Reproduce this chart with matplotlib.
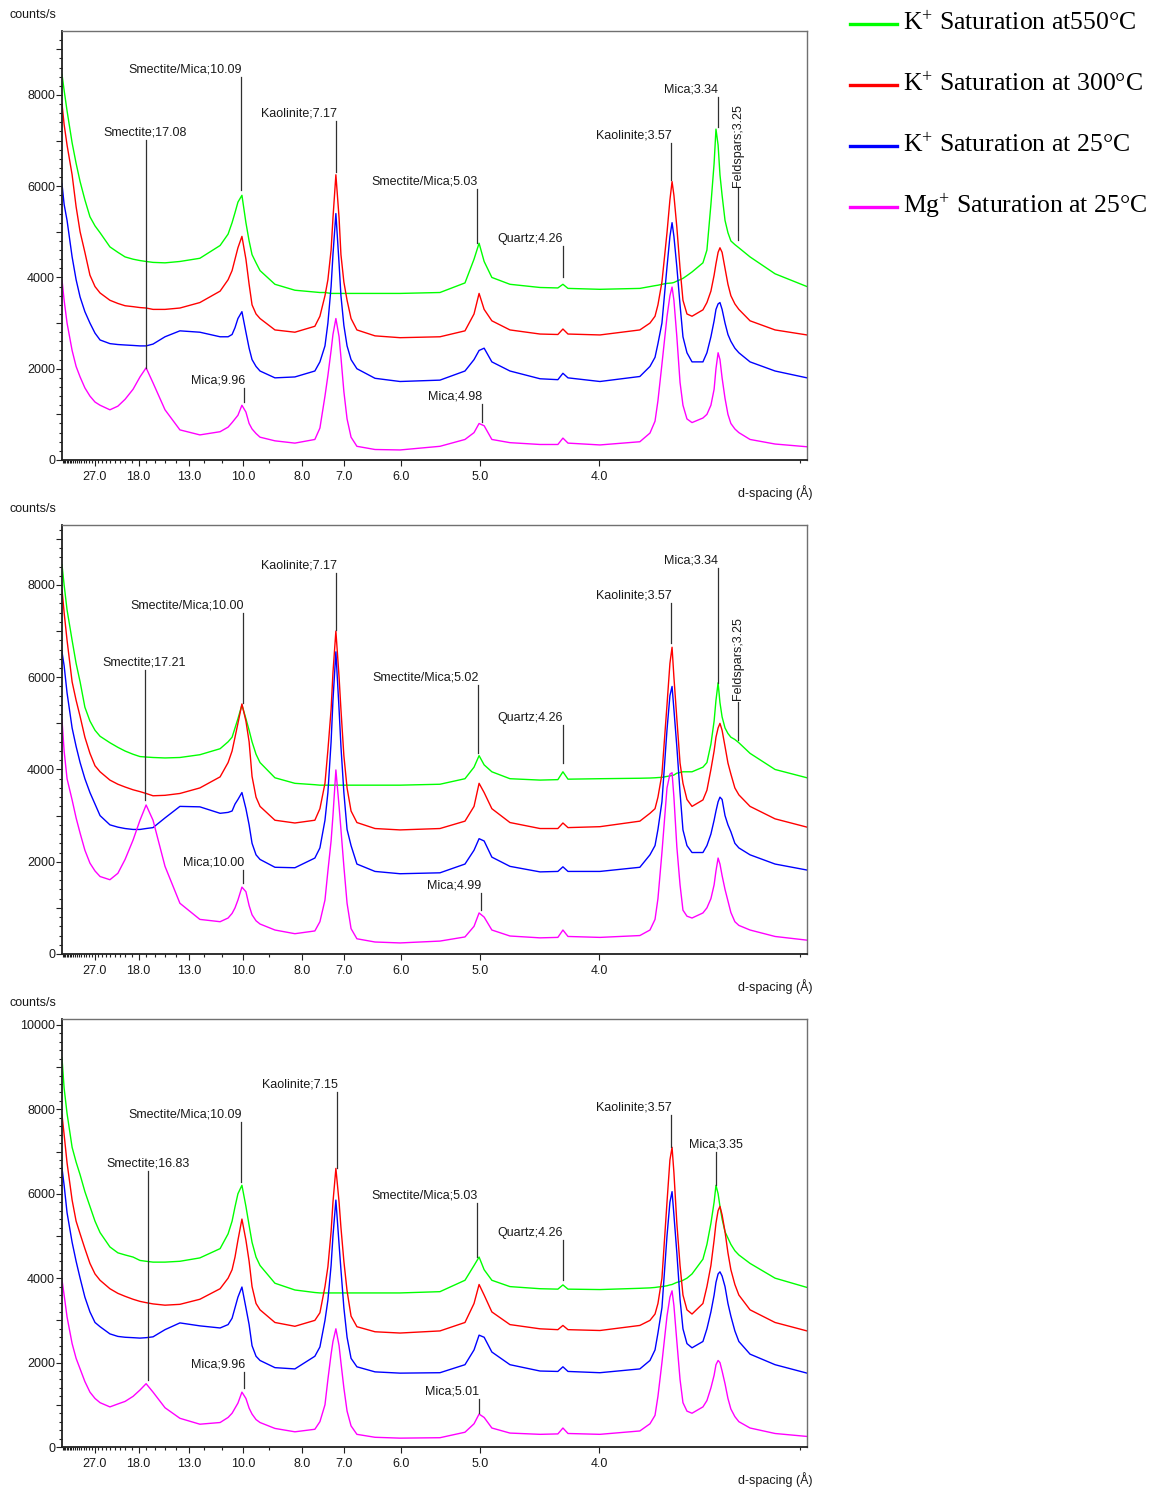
import numpy as np
import matplotlib
matplotlib.use('Agg')
import matplotlib.pyplot as plt
from matplotlib.lines import Line2D
from matplotlib.ticker import FixedLocator, FuncFormatter

WAVELENGTH = 1.5406  # Cu K-alpha, Angstrom

# measurement positions (degrees 2-theta), shared by all traces
two_theta = [2.03, 2.11, 2.22, 2.41, 2.56, 2.71, 2.89, 3.08, 3.27, 3.46,
             3.83, 4.13, 4.40, 4.70, 4.96, 5.19, 5.45, 5.90, 6.46, 7.21,
             7.97, 8.27, 8.42, 8.53, 8.64, 8.79, 8.94, 9.06, 9.17, 9.32,
             9.47, 10.03, 10.78, 11.53, 11.72, 11.91, 12.02, 12.14, 12.21, 12.32,
             12.44, 12.51, 12.62, 12.74, 12.89, 13.11, 13.79, 14.73, 16.23, 17.17,
             17.51, 17.70, 17.89, 18.18, 18.86, 19.99, 20.66, 20.85, 21.04, 22.24,
             23.74, 24.12, 24.31, 24.42, 24.57, 24.76, 24.87, 24.95, 25.02, 25.13,
             25.25, 25.36, 25.51, 25.70, 26.11, 26.26, 26.41, 26.53, 26.60, 26.68,
             26.75, 26.83, 26.94, 27.05, 27.16, 27.31, 27.46, 27.88, 28.82, 30.02]

# ---- panel 1 (counts/s)
p1_k550 = [8450, 8100, 7650, 6950, 6500, 6100, 5700, 5330, 5130, 4980,
           4670, 4550, 4450, 4400, 4370, 4350, 4330, 4320, 4350, 4420,
           4700, 4950, 5200, 5420, 5650, 5800, 5200, 4800, 4500, 4320,
           4150, 3850, 3720, 3680, 3670, 3670, 3660, 3650, 3650, 3650,
           3650, 3650, 3650, 3650, 3650, 3650, 3650, 3650, 3670, 3880,
           4400, 4750, 4350, 4000, 3850, 3780, 3770, 3850, 3760, 3740,
           3760, 3800, 3820, 3830, 3850, 3870, 3875, 3880, 3890, 3920,
           3950, 3980, 4040, 4120, 4320, 4600, 5600, 6500, 7250, 6900,
           6250, 5800, 5250, 4980, 4800, 4720, 4650, 4450, 4080, 3800]
p1_k300 = [7800, 7350, 6900, 6250, 5550, 5000, 4550, 4050, 3800, 3660,
           3500, 3430, 3380, 3360, 3340, 3330, 3300, 3300, 3330, 3450,
           3700, 3950, 4150, 4400, 4650, 4900, 4400, 3850, 3400, 3200,
           3100, 2850, 2800, 2930, 3150, 3600, 3950, 4600, 5300, 6250,
           5300, 4500, 3900, 3500, 3100, 2850, 2720, 2680, 2700, 2830,
           3200, 3650, 3300, 3050, 2850, 2760, 2750, 2870, 2760, 2740,
           2850, 3000, 3150, 3400, 3900, 4980, 5700, 6100, 5800, 5100,
           4200, 3500, 3200, 3150, 3290, 3450, 3700, 4050, 4300, 4550,
           4650, 4550, 4200, 3850, 3600, 3420, 3300, 3050, 2850, 2740]
p1_k25 = [6050, 5600, 5250, 4450, 3950, 3570, 3250, 3000, 2780, 2630,
          2550, 2530, 2520, 2510, 2500, 2500, 2540, 2700, 2830, 2800,
          2700, 2700, 2750, 2900, 3100, 3250, 2800, 2450, 2200, 2050,
          1950, 1800, 1820, 1950, 2150, 2500, 3000, 3800, 4500, 5400,
          4300, 3600, 2950, 2500, 2200, 2000, 1790, 1720, 1750, 1950,
          2200, 2400, 2450, 2150, 1950, 1780, 1760, 1900, 1800, 1720,
          1830, 2050, 2250, 2550, 3000, 4230, 4900, 5200, 4900, 4230,
          3400, 2700, 2350, 2150, 2150, 2350, 2700, 3050, 3300, 3420,
          3450, 3300, 3000, 2750, 2600, 2450, 2350, 2150, 1950, 1800]
p1_mg25 = [3950, 3500, 3000, 2400, 2050, 1820, 1580, 1400, 1270, 1200,
           1100, 1180, 1330, 1550, 1820, 2020, 1690, 1100, 660, 550,
           620, 720, 820, 900, 980, 1200, 1050, 800, 680, 580,
           500, 420, 370, 450, 700, 1400, 1850, 2400, 2750, 3100,
           2700, 2250, 1500, 900, 500, 300, 230, 220, 300, 450,
           600, 800, 750, 450, 380, 340, 340, 480, 370, 330,
           400, 590, 850, 1300, 2100, 3140, 3600, 3790, 3500, 2700,
           1700, 1200, 900, 820, 920, 1000, 1200, 1550, 2000, 2350,
           2200, 1800, 1350, 1000, 800, 680, 600, 450, 350, 290]

# ---- panel 2
p2_k550 = [8440, 8000, 7460, 6800, 6300, 5900, 5350, 5050, 4850, 4720,
           4580, 4480, 4400, 4330, 4280, 4270, 4260, 4250, 4260, 4320,
           4450, 4600, 4700, 4900, 5100, 5400, 5100, 4850, 4600, 4330,
           4150, 3820, 3700, 3670, 3660, 3660, 3660, 3660, 3660, 3660,
           3660, 3660, 3660, 3660, 3660, 3660, 3660, 3660, 3680, 3800,
           4050, 4300, 4100, 3950, 3800, 3770, 3780, 3950, 3790, 3800,
           3810, 3815, 3820, 3825, 3830, 3850, 3860, 3870, 3880, 3920,
           3935, 3950, 3950, 3950, 4050, 4150, 4550, 5050, 5500, 5880,
           5450, 5140, 4900, 4780, 4700, 4650, 4580, 4350, 4000, 3820]
p2_k300 = [7900, 7400, 6800, 5900, 5500, 5150, 4700, 4350, 4080, 3950,
           3770, 3680, 3620, 3560, 3520, 3480, 3430, 3440, 3480, 3600,
           3840, 4150, 4400, 4700, 5000, 5420, 5050, 4600, 3850, 3400,
           3200, 2900, 2840, 2900, 3150, 3700, 4420, 5300, 6100, 7000,
           6000, 5300, 4300, 3600, 3100, 2850, 2720, 2690, 2720, 2880,
           3200, 3700, 3500, 3150, 2850, 2720, 2720, 2840, 2740, 2760,
           2880, 3050, 3150, 3400, 3900, 5400, 6300, 6650, 6000, 5100,
           4140, 3700, 3350, 3200, 3340, 3550, 4000, 4400, 4700, 4900,
           5000, 4850, 4500, 4140, 3900, 3600, 3450, 3200, 2930, 2750]
p2_k25 = [6550, 6250, 5660, 4900, 4500, 4150, 3800, 3500, 3250, 3000,
          2800, 2750, 2720, 2700, 2700, 2720, 2740, 2950, 3200, 3190,
          3050, 3070, 3100, 3250, 3350, 3500, 3150, 2800, 2400, 2150,
          2050, 1880, 1870, 2080, 2300, 2900, 3500, 4600, 5500, 6550,
          5300, 4500, 3500, 2700, 2350, 1950, 1790, 1740, 1760, 1950,
          2250, 2500, 2450, 2100, 1900, 1780, 1790, 1890, 1790, 1790,
          1880, 2150, 2350, 2700, 3300, 4860, 5600, 5800, 5300, 4490,
          3500, 2690, 2350, 2200, 2200, 2350, 2600, 2900, 3100, 3300,
          3400, 3350, 3000, 2800, 2650, 2400, 2300, 2150, 1950, 1820]
p2_mg25 = [5080, 4400, 3800, 3340, 2950, 2620, 2250, 1970, 1800, 1680,
           1610, 1750, 2050, 2470, 2900, 3230, 2900, 1900, 1100, 750,
           700, 780, 880, 1000, 1170, 1450, 1350, 1050, 850, 720,
           650, 520, 440, 500, 700, 1170, 1800, 2450, 3000, 3990,
           3200, 2700, 1900, 1100, 550, 330, 260, 240, 280, 370,
           600, 890, 800, 520, 390, 350, 360, 520, 380, 360,
           400, 520, 750, 1200, 2200, 3600, 3900, 3930, 3400, 2320,
           1500, 950, 820, 780, 890, 1000, 1200, 1500, 1800, 2080,
           1950, 1700, 1400, 1150, 900, 700, 620, 520, 380, 300]

# ---- panel 3
p3_k550 = [9220, 8500, 7900, 7100, 6750, 6450, 6050, 5700, 5350, 5080,
           4740, 4600, 4550, 4500, 4420, 4400, 4380, 4380, 4400, 4480,
           4700, 5050, 5350, 5690, 6000, 6200, 5700, 5250, 4850, 4500,
           4300, 3880, 3720, 3660, 3650, 3650, 3650, 3650, 3650, 3650,
           3650, 3650, 3650, 3650, 3650, 3650, 3650, 3650, 3680, 3950,
           4300, 4500, 4200, 3950, 3800, 3750, 3740, 3840, 3740, 3730,
           3760, 3770, 3780, 3790, 3800, 3820, 3840, 3850, 3870, 3900,
           3920, 3950, 4000, 4100, 4450, 4800, 5300, 5800, 6200, 6000,
           5700, 5400, 5100, 4950, 4800, 4650, 4550, 4350, 4000, 3780]
p3_k300 = [7870, 7400, 6730, 5850, 5350, 5050, 4700, 4350, 4100, 3950,
           3750, 3640, 3570, 3500, 3450, 3420, 3390, 3360, 3380, 3500,
           3750, 4000, 4200, 4500, 4900, 5400, 4900, 4400, 3800, 3400,
           3250, 2950, 2860, 3000, 3180, 3800, 4270, 5100, 5800, 6600,
           5800, 5200, 4400, 3700, 3100, 2850, 2730, 2700, 2750, 2950,
           3400, 3850, 3600, 3200, 2900, 2800, 2780, 2880, 2780, 2760,
           2880, 3000, 3150, 3400, 4000, 5800, 6800, 7100, 6500, 5300,
           4300, 3600, 3250, 3150, 3400, 3800, 4300, 4900, 5300, 5600,
           5700, 5500, 5100, 4600, 4200, 3850, 3600, 3250, 2950, 2750]
p3_k25 = [6610, 6200, 5550, 4850, 4400, 4000, 3550, 3200, 2950, 2850,
          2680, 2620, 2600, 2590, 2580, 2590, 2610, 2780, 2940, 2870,
          2820, 2900, 3050, 3300, 3550, 3790, 3300, 2900, 2400, 2150,
          2050, 1880, 1850, 2150, 2370, 3000, 3480, 4300, 5000, 5850,
          4800, 4200, 3300, 2600, 2100, 1900, 1780, 1750, 1760, 1950,
          2300, 2650, 2600, 2250, 1950, 1800, 1790, 1900, 1790, 1760,
          1850, 2050, 2300, 2700, 3300, 5000, 5800, 6050, 5500, 4600,
          3500, 2800, 2450, 2350, 2500, 2800, 3200, 3600, 3900, 4100,
          4150, 4050, 3800, 3400, 3100, 2750, 2500, 2200, 1950, 1750]
p3_mg25 = [3960, 3600, 3080, 2450, 2100, 1850, 1550, 1300, 1150, 1050,
           950, 1020, 1080, 1200, 1350, 1500, 1300, 930, 680, 540,
           580, 700, 800, 920, 1040, 1300, 1150, 920, 780, 650,
           580, 440, 360, 420, 600, 1000, 1600, 2200, 2500, 2800,
           2400, 2000, 1400, 850, 500, 300, 230, 210, 220, 350,
           550, 780, 700, 450, 330, 300, 310, 450, 320, 300,
           380, 550, 750, 1200, 2000, 3100, 3550, 3700, 3350, 2500,
           1600, 1050, 850, 800, 950, 1100, 1400, 1700, 1950, 2050,
           2000, 1800, 1500, 1150, 900, 720, 600, 450, 320, 250]

series_labels = [r'K$^{+}$ Saturation at550°C',
                 r'K$^{+}$ Saturation at 300°C',
                 r'K$^{+}$ Saturation at 25°C',
                 r'Mg$^{+}$ Saturation at 25°C']
series_colors = ['#00ff00', '#ff0000', '#0000ff', '#ff00ff']

# peak labels: text, d-spacing, label line top / bottom (counts/s), text placement
p1_peaks = [('Smectite;17.08', 17.08, 7020, 2020, 'center'),
            ('Smectite/Mica;10.09', 10.09, 8400, 5920, 'right'),
            ('Mica;9.96', 9.96, 1580, 1270, 'right'),
            ('Kaolinite;7.17', 7.17, 7430, 6320, 'right'),
            ('Smectite/Mica;5.03', 5.03, 5940, 4760, 'right'),
            ('Mica;4.98', 4.98, 1230, 830, 'right'),
            ('Quartz;4.26', 4.26, 4690, 4010, 'right'),
            ('Kaolinite;3.57', 3.57, 6950, 6140, 'right'),
            ('Mica;3.34', 3.34, 7960, 7300, 'right'),
            ('Feldspars;3.25', 3.25, 5960, 4820, 'vertical')]
p2_peaks = [('Smectite;17.21', 17.21, 6160, 3340, 'center'),
            ('Smectite/Mica;10.00', 10.00, 7400, 5440, 'right'),
            ('Mica;10.00', 10.00, 1820, 1540, 'right'),
            ('Kaolinite;7.17', 7.17, 8260, 7030, 'right'),
            ('Smectite/Mica;5.02', 5.02, 5840, 4360, 'right'),
            ('Mica;4.99', 4.99, 1320, 950, 'right'),
            ('Quartz;4.26', 4.26, 4970, 4140, 'right'),
            ('Kaolinite;3.57', 3.57, 7610, 6750, 'right'),
            ('Mica;3.34', 3.34, 8370, 5880, 'right'),
            ('Feldspars;3.25', 3.25, 5470, 4640, 'vertical')]
p3_peaks = [('Smectite;16.83', 16.83, 6540, 1590, 'center'),
            ('Smectite/Mica;10.09', 10.09, 7700, 6280, 'right'),
            ('Mica;9.96', 9.96, 1780, 1400, 'right'),
            ('Kaolinite;7.15', 7.15, 8410, 6610, 'right'),
            ('Smectite/Mica;5.03', 5.03, 5780, 4500, 'right'),
            ('Mica;5.01', 5.01, 1140, 800, 'right'),
            ('Quartz;4.26', 4.26, 4900, 3960, 'right'),
            ('Kaolinite;3.57', 3.57, 7870, 7110, 'right'),
            ('Mica;3.35', 3.35, 6990, 6210, 'center')]

d_major = [27.0, 18.0, 13.0, 10.0, 8.0, 7.0, 6.0, 5.0, 4.0]
d_minor = [d for d in range(3, 44) if d not in (4, 5, 6, 7, 8, 10, 13, 18, 27)]

panels = [
    ([p1_k550, p1_k300, p1_k25, p1_mg25], p1_peaks, 9400),
    ([p2_k550, p2_k300, p2_k25, p2_mg25], p2_peaks, 9300),
    ([p3_k550, p3_k300, p3_k25, p3_mg25], p3_peaks, 10140),
]


def d_to_2theta(d):
    return np.degrees(2 * np.arcsin(WAVELENGTH / (2 * np.asarray(d, dtype=float))))


W, H = 1157, 1492
boxes = [(62, 31, 807, 460), (62, 525, 807, 954), (62, 1019, 807, 1447)]

plt.rcParams['font.family'] = ['Liberation Sans', 'DejaVu Sans']
plt.rcParams['mathtext.fontset'] = 'custom'
plt.rcParams['mathtext.rm'] = 'Liberation Serif'
plt.rcParams['mathtext.it'] = 'Liberation Serif:italic'
txt_col = '#1a1a1a'

fig = plt.figure(figsize=(W / 100, H / 100), dpi=100)

for (traces, peaks, ytop), (l, t, r, b) in zip(panels, boxes):
    ax = fig.add_axes([l / W, 1 - b / H, (r - l) / W, (b - t) / H])
    for vals, col in zip(traces, series_colors):
        ax.plot(two_theta, vals, color=col, lw=1.0)

    ax.set_xlim(2.03, 30.02)
    ax.set_ylim(0, ytop)

    # d-spacing ticks on a 2-theta scale
    ax.xaxis.set_major_locator(FixedLocator(d_to_2theta(d_major)))
    ax.xaxis.set_minor_locator(FixedLocator(d_to_2theta(d_minor)))
    ax.set_xticklabels([f'{d:.1f}' for d in d_major])
    ax.yaxis.set_major_locator(FixedLocator(np.arange(0, ytop, 1000)))
    ax.yaxis.set_minor_locator(FixedLocator(np.arange(0, ytop, 200)))
    ax.yaxis.set_major_formatter(FuncFormatter(lambda v, p: f'{int(v)}' if v % 2000 == 0 else ''))

    ax.tick_params(axis='x', which='major', direction='out', length=4.5, width=0.8,
                   pad=3.5, labelsize=9, labelcolor=txt_col, color='#202020')
    ax.tick_params(axis='x', which='minor', direction='out', length=2.5, width=0.8, color='#202020')
    ax.tick_params(axis='y', which='major', direction='out', length=4, width=0.8,
                   pad=1, labelsize=9, labelcolor=txt_col, color='#202020')
    ax.tick_params(axis='y', which='minor', direction='out', length=2, width=0.8, color='#202020')

    for side in ['left', 'bottom']:
        ax.spines[side].set_color('#202020')
        ax.spines[side].set_linewidth(1.3)
    for side in ['top', 'right']:
        ax.spines[side].set_color('#707070')
        ax.spines[side].set_linewidth(1.0)

    # peak identification lines
    for label, d, y_hi, y_lo, place in peaks:
        x = d_to_2theta(d)
        ax.plot([x, x], [y_lo, y_hi], color='#303030', lw=0.9)
        if place == 'vertical':
            ax.annotate(label, xy=(x, y_hi), xytext=(0, 1), textcoords='offset points',
                        rotation=90, ha='center', va='bottom', fontsize=9, color=txt_col)
        else:
            ax.annotate(label, xy=(x, y_hi), xytext=(0.5 if place == 'right' else 0, 3),
                        textcoords='offset points', ha=place, va='baseline',
                        fontsize=9, color=txt_col)

    fig.text(10 / W, 1 - (t - 16) / H, 'counts/s', fontsize=9, color=txt_col, va='center')
    fig.text(813 / W, 1 - (b + 33) / H, 'd-spacing (Å)', fontsize=9, color=txt_col,
             va='center', ha='right')

# legend drawn at the upper right
for i, (lab, col) in enumerate(zip(series_labels, series_colors)):
    yc = 1 - (24 + 61 * i) / H
    fig.add_artist(Line2D([850 / W, 897 / W], [yc, yc], transform=fig.transFigure,
                          color=col, lw=2.4))
    fig.text(903 / W, yc + 1 / H, lab, fontsize=18.5, family='Liberation Serif',
             va='center', ha='left', color='black')

fig.savefig('out.png', dpi=100)
